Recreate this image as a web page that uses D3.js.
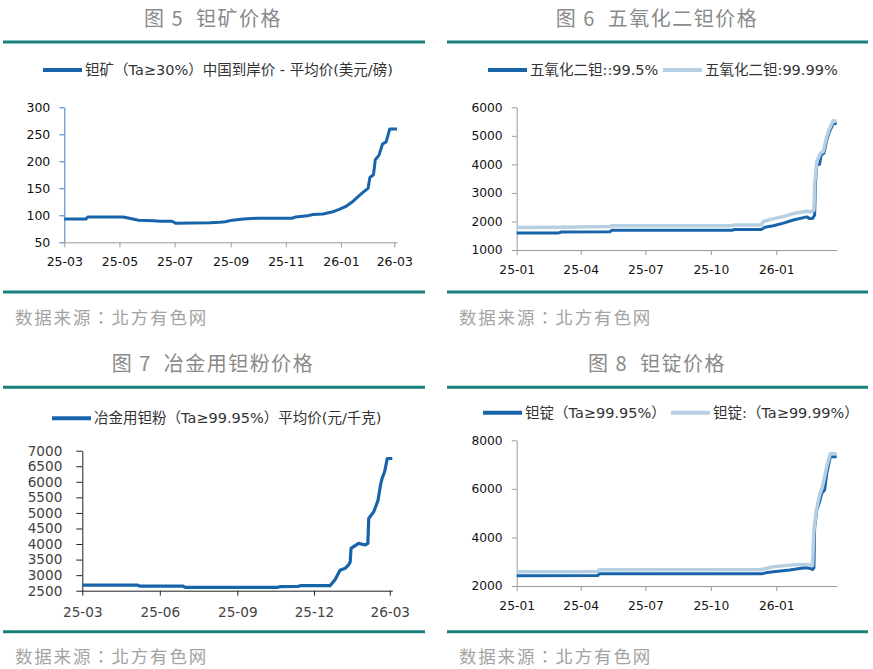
<!DOCTYPE html>
<html>
<head>
<meta charset="utf-8">
<script src="https://cdn.jsdelivr.net/npm/d3@7"></script>
<style>
  body { margin: 0; background: #fff; }
  text { font-family: "DejaVu Sans", "Noto Sans CJK SC", sans-serif; }
  .cjk { font-family: "Noto Sans CJK SC", sans-serif; }
  .src { font-family: "Noto Sans CJK TC", sans-serif; }
</style>
</head>
<body>
<div id="chart"></div>
<script>
/* Data */
const oreTitle = "图 5  钽矿价格"
const oreLegend = ["钽矿（Ta≥30%）中国到岸价 - 平均价(美元/磅)"]
const orePrice = [
  ["2025-03-01", 93], ["2025-03-25", 93], ["2025-03-27", 97], ["2025-05-05", 97],
  ["2025-05-12", 94.5], ["2025-05-22", 91], ["2025-06-08", 90], ["2025-06-15", 89],
  ["2025-06-28", 89], ["2025-07-02", 85.5], ["2025-08-09", 86], ["2025-08-20", 87],
  ["2025-08-26", 88], ["2025-09-03", 91], ["2025-09-15", 93], ["2025-10-01", 94.5],
  ["2025-11-08", 94.5], ["2025-11-12", 97], ["2025-11-25", 99], ["2025-12-01", 101.5],
  ["2025-12-12", 102.5], ["2025-12-22", 106], ["2025-12-30", 111], ["2026-01-06", 116],
  ["2026-01-13", 124], ["2026-01-19", 133], ["2026-01-25", 142], ["2026-01-31", 150],
  ["2026-02-02", 170], ["2026-02-06", 175], ["2026-02-08", 203], ["2026-02-12", 211],
  ["2026-02-16", 232], ["2026-02-20", 236], ["2026-02-24", 260], ["2026-03-04", 260]
]
const oreYTicks = [50, 100, 150, 200, 250, 300]
const oreXTicks = ["2025-03-01", "2025-05-01", "2025-07-01", "2025-09-01", "2025-11-01", "2026-01-01", "2026-03-01"]

const oxideTitle = "图 6  五氧化二钽价格"
const oxideLegend = ["五氧化二钽::99.5%", "五氧化二钽:99.99%"]
const oxide995 = [
  ["2025-01-01", 1600], ["2025-03-01", 1600], ["2025-03-05", 1630], ["2025-05-12", 1640],
  ["2025-05-15", 1690], ["2025-10-31", 1690], ["2025-11-03", 1720], ["2025-12-11", 1720],
  ["2025-12-16", 1800], ["2025-12-28", 1850], ["2026-01-11", 1940], ["2026-01-25", 2050],
  ["2026-02-13", 2160], ["2026-02-17", 2100], ["2026-02-21", 2100], ["2026-02-24", 2230],
  ["2026-02-25", 3300], ["2026-02-27", 3980], ["2026-03-03", 4000], ["2026-03-05", 4330],
  ["2026-03-09", 4390], ["2026-03-13", 4850], ["2026-03-17", 5150], ["2026-03-22", 5430],
  ["2026-03-27", 5430]
]
const oxide9999 = [
  ["2025-01-01", 1790], ["2025-03-01", 1800], ["2025-05-12", 1820], ["2025-05-15", 1850],
  ["2025-10-31", 1850], ["2025-11-03", 1880], ["2025-12-11", 1880], ["2025-12-14", 2000],
  ["2025-12-28", 2100], ["2026-01-11", 2170], ["2026-01-25", 2280], ["2026-02-13", 2360],
  ["2026-02-19", 2330], ["2026-02-23", 2400], ["2026-02-24", 3300], ["2026-02-27", 4100],
  ["2026-03-04", 4390], ["2026-03-08", 4450], ["2026-03-13", 4970], ["2026-03-17", 5260],
  ["2026-03-22", 5530], ["2026-03-27", 5500]
]
const oxideYTicks = [1000, 2000, 3000, 4000, 5000, 6000]
const quarterTicks = ["2025-01-01", "2025-04-01", "2025-07-01", "2025-10-01", "2026-01-01"]

const powderTitle = "图 7  冶金用钽粉价格"
const powderLegend = ["冶金用钽粉（Ta≥99.95%）平均价(元/千克)"]
const powderPrice = [
  ["2025-03-01", 2680], ["2025-05-05", 2680], ["2025-05-08", 2650], ["2025-06-28", 2650],
  ["2025-07-01", 2610], ["2025-10-19", 2610], ["2025-10-22", 2630], ["2025-11-12", 2640],
  ["2025-11-15", 2660], ["2025-12-20", 2660], ["2025-12-26", 2850], ["2026-01-01", 3160],
  ["2026-01-07", 3220], ["2026-01-11", 3330], ["2026-01-13", 3420], ["2026-01-14", 3860],
  ["2026-01-23", 4020], ["2026-01-31", 3970], ["2026-02-03", 4020], ["2026-02-04", 4820],
  ["2026-02-10", 5040], ["2026-02-15", 5400], ["2026-02-18", 5900], ["2026-02-20", 6120],
  ["2026-02-23", 6330], ["2026-02-26", 6750], ["2026-03-04", 6750]
]
const powderYTicks = [2500, 3000, 3500, 4000, 4500, 5000, 5500, 6000, 6500, 7000]
const powderXTicks = ["2025-03-01", "2025-06-01", "2025-09-01", "2025-12-01", "2026-03-01"]

const ingotTitle = "图 8  钽锭价格"
const ingotLegend = ["钽锭（Ta≥99.95%）", "钽锭:（Ta≥99.99%）"]
const ingot9995 = [
  ["2025-01-01", 2420], ["2025-04-25", 2430], ["2025-04-27", 2500], ["2025-12-11", 2500],
  ["2025-12-20", 2560], ["2025-12-28", 2590], ["2026-01-20", 2660], ["2026-02-10", 2750],
  ["2026-02-17", 2730], ["2026-02-21", 2680], ["2026-02-23", 2750], ["2026-02-24", 4400],
  ["2026-02-27", 5130], ["2026-03-03", 5470], ["2026-03-06", 5820], ["2026-03-10", 5950],
  ["2026-03-13", 6640], ["2026-03-18", 7320], ["2026-03-27", 7320]
]
const ingot9999 = [
  ["2025-01-01", 2590], ["2025-04-25", 2600], ["2025-04-27", 2670], ["2025-12-11", 2680],
  ["2025-12-28", 2790], ["2026-01-25", 2870], ["2026-02-15", 2890], ["2026-02-21", 2850],
  ["2026-02-23", 4300], ["2026-02-26", 5060], ["2026-03-03", 5750], ["2026-03-07", 6090],
  ["2026-03-13", 6910], ["2026-03-18", 7460], ["2026-03-27", 7450]
]
const ingotYTicks = [2000, 4000, 6000, 8000]

const SOURCE = "数据来源：北方有色网"
const DARK = "#1764ab"
const LIGHT = "#b7cfe2"
const TEAL = "#1a807d"

const parse = d3.timeParse("%Y-%m-%d")
const fmt = d3.timeFormat("%y-%m")

const svg = d3.select("#chart").append("svg")
  .attr("width", 873).attr("height", 669)

/* One panel: frame, title, legend, axes, lines */
const drawPanel = (p) => {
  const g = svg.append("g")
  // title
  g.append("text").attr("class", "cjk")
    .attr("x", p.titleX).attr("y", p.top + 19).attr("dy", "0.35em")
    .attr("text-anchor", "middle").attr("fill", "#8a8a8a")
    .style("font-size", "20px").style("letter-spacing", "1.5px")
    .style("white-space", "pre").text(p.title)
  // teal rules
  ;[p.top + p.rule1, p.top + p.rule2].forEach(y => {
    g.append("line").attr("x1", p.left).attr("x2", p.right)
      .attr("y1", y).attr("y2", y).attr("stroke", TEAL).attr("stroke-width", 3)
  })
  // source note
  g.append("text").attr("class", "src")
    .attr("x", p.left + 12).attr("y", p.top + p.srcY).attr("dy", "0.35em")
    .attr("fill", "#a3a3a3").style("font-size", "17.5px").style("letter-spacing", "1.8px")
    .text(SOURCE)

  const x = d3.scaleTime().domain(p.xDomain.map(parse)).range(p.xRange)
  const y = d3.scaleLinear().domain(p.yDomain).range(p.yRange)

  const yAxis = g.append("g").attr("transform", `translate(${p.xRange[0]},0)`)
    .call(d3.axisLeft(y).tickValues(p.yTicks).tickFormat(d3.format("d"))
      .tickSize(p.yTickSize).tickSizeOuter(0).tickPadding(p.yPad))
  const xAxis = g.append("g").attr("transform", `translate(0,${p.yRange[0]})`)
    .call(d3.axisBottom(x).tickValues(p.xTicks.map(parse)).tickFormat(fmt)
      .tickSize(5).tickSizeOuter(0).tickPadding(p.xPad))
  yAxis.selectAll("path,line").attr("stroke", p.yAxisColor)
  xAxis.selectAll("path,line").attr("stroke", p.xAxisColor)
  ;[yAxis, xAxis].forEach(a => a.selectAll("text")
    .attr("fill", p.tickColor).style("font-size", p.tickFont + "px"))

  const line = d3.line().x(d => x(parse(d[0]))).y(d => y(d[1]))
  p.series.forEach((s, i) => {
    g.append("path").datum(s.data).attr("d", line).attr("fill", "none")
      .attr("stroke", s.color).attr("stroke-width", s.width)
      .attr("stroke-linejoin", "round")
    // legend entry
    const lx = p.legendX[i]
    g.append("line").attr("x1", lx).attr("x2", lx + 39)
      .attr("y1", p.legendY).attr("y2", p.legendY)
      .attr("stroke", s.color).attr("stroke-width", 4)
    g.append("text").attr("x", lx + 42).attr("y", p.legendY).attr("dy", "0.35em")
      .attr("fill", "#333").style("font-size", "14.5px").text(p.legend[i])
  })
}

drawPanel({
  title: oreTitle, titleX: 213, top: 0, left: 3, right: 425, rule1: 42, rule2: 292, srcY: 318,
  xDomain: ["2025-03-01", "2026-03-04"], xRange: [64.3, 397],
  yDomain: [50, 300], yRange: [242.3, 107.3], yTicks: oreYTicks, xTicks: oreXTicks,
  yTickSize: 5, yPad: 9, xPad: 10, tickFont: 12.5, tickColor: "#111",
  yAxisColor: "#3f7fc4", xAxisColor: "#999",
  legend: oreLegend, legendX: [43], legendY: 70,
  series: [{ data: orePrice, color: DARK, width: 3 }]
})

drawPanel({
  title: oxideTitle, titleX: 657, top: 0, left: 447, right: 868, rule1: 42, rule2: 292, srcY: 318,
  xDomain: ["2025-01-01", "2026-03-27"], xRange: [516.7, 836.7],
  yDomain: [1000, 6000], yRange: [250, 107.3], yTicks: oxideYTicks, xTicks: quarterTicks,
  yTickSize: 5, yPad: 9, xPad: 10, tickFont: 12.3, tickColor: "#111",
  yAxisColor: "#999", xAxisColor: "#999",
  legend: oxideLegend, legendX: [488, 663], legendY: 70,
  series: [{ data: oxide995, color: DARK, width: 3 }, { data: oxide9999, color: LIGHT, width: 3.5 }]
})

drawPanel({
  title: powderTitle, titleX: 213, top: 345, left: 3, right: 425, rule1: 42.3, rule2: 286.7, srcY: 311.7,
  xDomain: ["2025-03-01", "2026-03-04"], xRange: [82.3, 392.3],
  yDomain: [2500, 7000], yRange: [590.7, 450.7], yTicks: powderYTicks, xTicks: powderXTicks,
  yTickSize: 6, yPad: 14, xPad: 11.5, tickFont: 13.6, tickColor: "#444",
  yAxisColor: "#222", xAxisColor: "#222",
  legend: powderLegend, legendX: [52], legendY: 418.3,
  series: [{ data: powderPrice, color: DARK, width: 3.2 }]
})

drawPanel({
  title: ingotTitle, titleX: 657, top: 345, left: 447, right: 868, rule1: 42.3, rule2: 286.7, srcY: 311.7,
  xDomain: ["2025-01-01", "2026-03-27"], xRange: [516.7, 836.7],
  yDomain: [2000, 8000], yRange: [586, 440.3], yTicks: ingotYTicks, xTicks: quarterTicks,
  yTickSize: 5, yPad: 9, xPad: 10, tickFont: 12.3, tickColor: "#111",
  yAxisColor: "#999", xAxisColor: "#999",
  legend: ingotLegend, legendX: [483, 671], legendY: 412.7,
  series: [{ data: ingot9995, color: DARK, width: 3 }, { data: ingot9999, color: LIGHT, width: 3.5 }]
})
</script>
</body>
</html>
